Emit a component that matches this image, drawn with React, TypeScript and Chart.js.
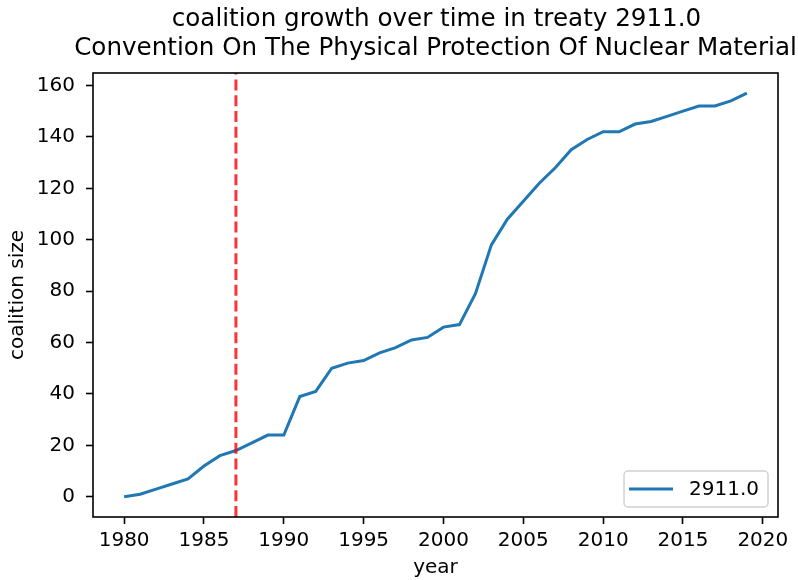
import React, { useEffect, useRef } from 'react';
import { Chart, registerables } from 'chart.js';

Chart.register(...registerables);

const years = [
  1980, 1981, 1982, 1983, 1984, 1985, 1986, 1987, 1988, 1989,
  1990, 1991, 1992, 1993, 1994, 1995, 1996, 1997, 1998, 1999,
  2000, 2001, 2002, 2003, 2004, 2005, 2006, 2007, 2008, 2009,
  2010, 2011, 2012, 2013, 2014, 2015, 2016, 2017, 2018, 2019,
];
const coalitionSize = [
  0, 1, 3, 5, 7, 12, 16, 18, 21, 24,
  24, 39, 41, 50, 52, 53, 56, 58, 61, 62,
  66, 67, 79, 98, 108, 115, 122, 128, 135, 139,
  142, 142, 145, 146, 148, 150, 152, 152, 154, 157,
];
const seriesLabel = '2911.0';
const titleLines = [
  'coalition growth over time in treaty 2911.0',
  'Convention On The Physical Protection Of Nuclear Material',
];
const xTicks = [1980, 1985, 1990, 1995, 2000, 2005, 2010, 2015, 2020];
const yTicks = [0, 20, 40, 60, 80, 100, 120, 140, 160];
const treatyYear = 1987;
const xLabel = 'year';
const yLabel = 'coalition size';

const FONT = "'DejaVu Sans', sans-serif";
const LINE_COLOR = '#1f77b4';

export default function App() {
  const ref = useRef<HTMLCanvasElement | null>(null);

  useEffect(() => {
    if (!ref.current) return;
    const yLo = Math.min(...coalitionSize);
    const yHi = Math.max(...coalitionSize);
    const yPad = (yHi - yLo) * 0.05;
    const xLo = years[0];
    const xHi = years[years.length - 1];
    const xPad = (xHi - xLo) * 0.05;

    const decor = {
      id: 'decor',
      afterDraw(chart: any) {
        const ctx = chart.ctx as CanvasRenderingContext2D;
        const ca = chart.chartArea;
        ctx.save();
        // frame
        ctx.strokeStyle = '#000';
        ctx.lineWidth = 1.6;
        ctx.strokeRect(ca.left, ca.top, ca.right - ca.left, ca.bottom - ca.top);
        // title
        ctx.fillStyle = '#000';
        ctx.font = `24.6px ${FONT}`;
        ctx.textAlign = 'center';
        ctx.textBaseline = 'alphabetic';
        const cx = (ca.left + ca.right) / 2;
        ctx.fillText(titleLines[0], cx + 1, 26);
        ctx.fillText(titleLines[1], cx, 55);
        // legend
        ctx.font = `20px ${FONT}`;
        const tw = ctx.measureText(seriesLabel).width;
        const w = 8 + 40 + 16 + tw + 10;
        const h = 36;
        const rx = ca.right - 10 - w;
        const ry = ca.bottom - 10 - h;
        ctx.beginPath();
        (ctx as any).roundRect(rx, ry, w, h, 4);
        ctx.fillStyle = 'rgba(255,255,255,0.8)';
        ctx.fill();
        ctx.strokeStyle = 'rgba(204,204,204,0.9)';
        ctx.lineWidth = 1.5;
        ctx.stroke();
        ctx.beginPath();
        ctx.moveTo(rx + 5, ry + h / 2);
        ctx.lineTo(rx + 49, ry + h / 2);
        ctx.strokeStyle = LINE_COLOR;
        ctx.lineWidth = 3;
        ctx.stroke();
        ctx.fillStyle = '#000';
        ctx.textAlign = 'left';
        ctx.textBaseline = 'middle';
        ctx.fillText(seriesLabel, rx + 65, ry + h / 2 + 1);
        ctx.restore();
      },
    };

    const chart = new Chart(ref.current, {
      type: 'line',
      data: {
        datasets: [
          {
            label: seriesLabel,
            data: years.map((yr, i) => ({ x: yr, y: coalitionSize[i] })),
            borderColor: LINE_COLOR,
            borderWidth: 3,
            pointRadius: 0,
            tension: 0,
            fill: false,
            order: 1,
          },
          {
            label: 'treaty',
            data: [
              { x: treatyYear, y: yLo - yPad },
              { x: treatyYear, y: yHi + yPad },
            ],
            borderColor: 'rgba(255,0,0,0.8)',
            borderWidth: 3,
            borderDash: [11, 4.8],
            pointRadius: 0,
            fill: false,
            order: 0,
          },
        ],
      },
      options: {
        responsive: false,
        animation: false,
        devicePixelRatio: 1,
        layout: { padding: { top: 73, left: 0, right: 20, bottom: 0 } },
        plugins: {
          legend: { display: false },
          tooltip: { enabled: false },
          title: { display: false },
        },
        scales: {
          x: {
            type: 'linear',
            min: xLo - xPad,
            max: xHi + xPad,
            afterBuildTicks: (s: any) => {
              s.ticks = xTicks.map((v) => ({ value: v }));
            },
            afterFit: (s: any) => {
              s.height = 63;
            },
            ticks: {
              color: '#000',
              font: { family: FONT, size: 20 },
              padding: 5,
              maxRotation: 0,
              autoSkip: false,
              callback: (v: any) => String(v),
            },
            grid: {
              display: true,
              drawOnChartArea: false,
              drawTicks: true,
              tickLength: 7,
              tickWidth: 1.6,
              tickColor: '#000',
            },
            border: { display: false },
            title: {
              display: true,
              text: xLabel,
              color: '#000',
              font: { family: FONT, size: 20 },
              padding: { top: 2, bottom: 0 },
            },
          },
          y: {
            type: 'linear',
            min: yLo - yPad,
            max: yHi + yPad,
            afterBuildTicks: (s: any) => {
              s.ticks = yTicks.map((v) => ({ value: v }));
            },
            afterFit: (s: any) => {
              s.width = 93;
            },
            ticks: {
              color: '#000',
              font: { family: FONT, size: 20 },
              padding: 11,
              autoSkip: false,
              callback: (v: any) => String(v),
            },
            grid: {
              display: true,
              drawOnChartArea: false,
              drawTicks: true,
              tickLength: 7,
              tickWidth: 1.6,
              tickColor: '#000',
            },
            border: { display: false },
            title: {
              display: true,
              text: yLabel,
              color: '#000',
              font: { family: FONT, size: 20 },
              padding: { top: 6, bottom: 0 },
            },
          },
        },
      },
      plugins: [decor],
    } as any);

    return () => chart.destroy();
  }, []);

  return (
    <div style={{ position: 'fixed', left: 0, top: 0, width: 798, height: 580, background: '#fff' }}>
      <canvas ref={ref} width={798} height={580} style={{ width: 798, height: 580, display: 'block' }} />
    </div>
  );
}
